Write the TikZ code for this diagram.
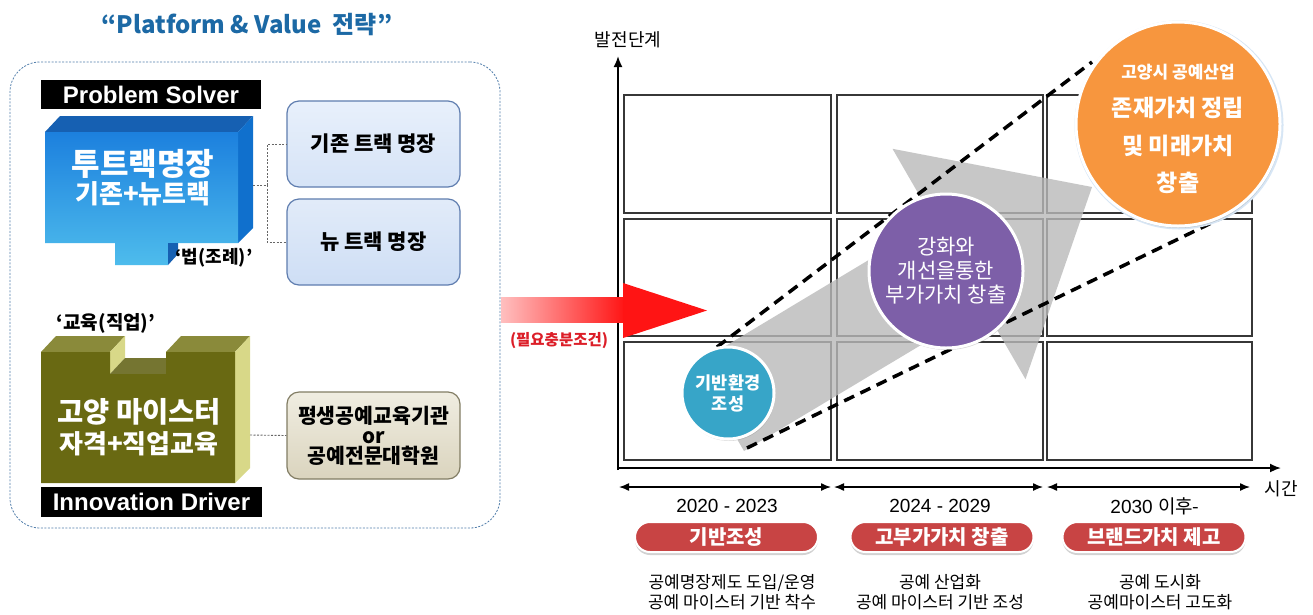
\documentclass[tikz,border=0pt]{standalone}
\usepackage{fontspec}
\setmainfont{Noto Sans CJK KR}
\newfontfamily\arial{Liberation Sans}
\usetikzlibrary{arrows.meta,shadows}
\definecolor{titleblue}{RGB}{28,105,165}
\definecolor{frameblue}{RGB}{80,125,170}
\definecolor{bfrontA}{RGB}{28,128,222}
\definecolor{bfrontB}{RGB}{78,188,236}
\definecolor{btop}{RGB}{22,96,178}
\definecolor{bside}{RGB}{16,112,205}
\definecolor{ofront}{RGB}{105,105,18}
\definecolor{otop}{RGB}{138,138,58}
\definecolor{oside}{RGB}{216,216,136}
\definecolor{boxbA}{RGB}{232,240,251}
\definecolor{boxbB}{RGB}{206,222,245}
\definecolor{boxbd}{RGB}{95,125,175}
\definecolor{beigeA}{RGB}{240,237,225}
\definecolor{beigeB}{RGB}{218,212,190}
\definecolor{beigebd}{RGB}{130,125,100}
\definecolor{pillred}{RGB}{200,68,68}
\definecolor{circteal}{RGB}{55,165,200}
\definecolor{circpurp}{RGB}{125,95,168}
\definecolor{circorng}{RGB}{247,150,62}
\definecolor{gridc}{RGB}{55,55,55}
\definecolor{arrowgray}{RGB}{185,185,185}
\definecolor{needred}{RGB}{220,30,40}
\definecolor{arrowred}{RGB}{255,20,20}
\definecolor{glowblue}{RGB}{215,230,245}
\begin{document}
\begin{tikzpicture}[x=1pt,y=-1pt,
  conn/.style={draw=gray!80!black, dash pattern=on 2pt off 1.5pt, line width=0.9pt},
  sidebox/.style={draw=boxbd, line width=1.2pt, rounded corners=12pt, minimum width=173pt, inner sep=0pt, align=center},
  blackbar/.style={fill=black, text=white, inner sep=0pt, minimum width=221pt, minimum height=30pt, font=\arial\bfseries\fontsize{24}{24}\selectfont},
  cell/.style={draw=gridc, line width=2pt},
  axis/.style={line width=1.8pt, -{Latex[length=11pt,width=9pt]}},
  span/.style={line width=1.4pt, {Latex[length=10pt,width=8pt]}-{Latex[length=10pt,width=8pt]}},
  trend/.style={line width=3.5pt, dash pattern=on 11pt off 7pt},
  pill/.style={rounded corners=15pt, fill=pillred, draw=white, line width=2pt, minimum width=183pt, minimum height=30pt, text=white, inner sep=0pt, font=\bfseries\fontsize{20}{20}\selectfont, drop shadow={shadow xshift=0pt, shadow yshift=-3pt, opacity=0.35}},
  desc/.style={align=center, font=\fontsize{17}{20}\selectfont, inner sep=0pt},
  year/.style={font=\arial\fontsize{19}{19}\selectfont, inner sep=0pt},
  bubble/.style={circle, draw=white, line width=3pt, text=white, align=center, inner sep=0pt, drop shadow={shadow xshift=1pt, shadow yshift=-2pt, opacity=0.3}},
  txt/.style={inner sep=0pt, align=center}
]
\useasboundingbox (0,0) rectangle (1313,614);
\fill[white] (0,0) rectangle (1313,614);

% ---------- left panel ----------
\node[txt, text=titleblue, font=\bfseries\fontsize{24}{24}\selectfont] (title) at (247,25) {“Platform \& Value\ \ 전략”};
\node[draw=frameblue, dash pattern=on 2pt off 1.5pt, line width=0.8pt, rounded corners=30pt, minimum width=490pt, minimum height=466pt, inner sep=0pt] (frame) at (255,295) {};

\node[blackbar, minimum width=220pt, minimum height=29pt] (ps) at (151,94.5) {Problem Solver};

% blue 3D box
\fill[btop] (45,132) -- (60,116) -- (253,116) -- (238,132) -- cycle;
\fill[bside] (238,132) -- (253,116) -- (253,228) -- (238,243) -- cycle;
\shade[top color=bfrontA, bottom color=bfrontB] (45,132) -- (238,132) -- (238,243) -- (168,243) -- (168,265) -- (115,265) -- (115,243) -- (45,243) -- cycle;
\fill[btop] (168,243) -- (178,243) -- (178,254) -- (168,265) -- cycle;
\node[txt, text=white, font=\bfseries\fontsize{31}{31}\selectfont] (blue1) at (143,164) {투트랙명장};
\node[txt, text=white, font=\bfseries\fontsize{26}{26}\selectfont] (blue2) at (143,194) {기존+뉴트랙};
\node[txt, font=\bfseries\fontsize{18}{18}\selectfont] (law) at (214,258) {‘법(조례)’};
\coordinate (blueR) at (253,185);

\node[sidebox, minimum height=86pt, top color=boxbA, bottom color=boxbB!70!boxbA, font=\bfseries\fontsize{21}{21}\selectfont] (b1) at (373.5,144) {기존 트랙 명장};
\node[sidebox, minimum height=86pt, top color=boxbB!60!white, bottom color=boxbB, font=\bfseries\fontsize{21}{21}\selectfont] (b2) at (373.5,242) {뉴 트랙 명장};
\draw[conn] (blueR) -- (267,185) |- (b1.west);
\draw[conn] (267,185) |- (b2.west);

% olive 3D box
\node[txt, font=\bfseries\fontsize{19}{19}\selectfont] (edu) at (106,323) {‘교육(직업)’};
\fill[otop] (41,352) -- (56,336) -- (125,336) -- (110,352) -- cycle;
\fill[oside] (110,352) -- (125,336) -- (125,358) -- (110,374) -- cycle;
\fill[otop!85!black] (110,374) -- (125,358) -- (181,358) -- (166,374) -- cycle;
\fill[otop] (166,352) -- (181,336) -- (250,336) -- (235,352) -- cycle;
\fill[oside] (235,352) -- (250,336) -- (250,468) -- (235,483) -- cycle;
\fill[ofront] (41,352) -- (110,352) -- (110,374) -- (166,374) -- (166,352) -- (235,352) -- (235,483) -- (41,483) -- cycle;
\node[txt, text=white, font=\bfseries\fontsize{28.5}{28.5}\selectfont] (ol1) at (139,412) {고양 마이스터};
\node[txt, text=white, font=\bfseries\fontsize{26}{26}\selectfont] (ol2) at (139,444) {자격+직업교육};
\coordinate (oliveR) at (250,435);
\node[blackbar] (id) at (151.5,502) {Innovation Driver};

\node[sidebox, draw=beigebd, minimum height=87pt, top color=beigeA, bottom color=beigeB, font=\bfseries\fontsize{20.5}{24}\selectfont] (b3) at (373.5,435.5) {평생공예교육기관\\[-4pt]or\\[-4pt]공예전문대학원};
\draw[conn] (oliveR) -- (b3.west);

% ---------- chart ----------
\foreach \xa/\xb in {624/831,837/1043,1047/1252}{
  \foreach \ya/\yb in {95/213,219/336,342/460}{
    \draw[cell] (\xa,\ya) rectangle (\xb,\yb);
  }
}
\coordinate (O) at (618,468);
\coordinate (ytip) at (618,56);
\coordinate (xtip) at (1281,468);
\draw[axis] (618,470) -- (ytip);
\draw[axis] (617,468) -- (xtip);
\node[txt, font=\fontsize{18}{18}\selectfont] (ylab) at (628,40) {발전단계};
\node[txt, font=\fontsize{18}{18}\selectfont] (xlab) at (1281,489) {시간};

% gray growth arrow
\fill[arrowgray, opacity=0.8] (694,365) -- (934,220.7) -- (892.5,148.8) -- (1092,187) -- (1025.5,379.2) -- (984,307.3) -- (744,451) -- cycle;

% trend dashed lines
\coordinate (up0) at (717,347);
\coordinate (up1) at (1092,62);
\coordinate (lo0) at (747,448);
\coordinate (lo1) at (1234,212);
\draw[trend] (up0) -- (up1);
\draw[trend] (lo0) -- (lo1);

% red arrow
\shade[left color=red!25!white, right color=arrowred] (501,297) rectangle (625,322);
\fill[arrowred] (623,283) -- (707,310.5) -- (623,338) -- cycle;
\node[txt, text=needred, font=\bfseries\fontsize{15.5}{15.5}\selectfont] (need) at (559,341) {(필요충분조건)};

% bubbles
\node[bubble, fill=circteal, minimum size=92pt, font=\bfseries\fontsize{17.5}{21}\selectfont] (c1) at (728,393) {기반환경\\조성};
\node[bubble, fill=circpurp, minimum size=154pt, font=\fontsize{21}{24}\selectfont] (c2) at (946,271) {강화와\\개선을통한\\부가가치 창출};
\node[circle, fill=glowblue, minimum size=209pt, inner sep=0pt] (c3glow) at (1179,125) {};
\node[bubble, fill=circorng, minimum size=204pt] (c3) at (1178,124) {};
\node[txt, text=white, font=\bfseries\fontsize{17}{17}\selectfont] (o1) at (1178,72) {고양시 공예산업};
\node[txt, text=white, font=\bfseries\fontsize{23}{23}\selectfont] (o2) at (1178,108) {존재가치 정립};
\node[txt, text=white, font=\bfseries\fontsize{23}{23}\selectfont] (o3) at (1178,146) {및 미래가치};
\node[txt, text=white, font=\bfseries\fontsize{23}{23}\selectfont] (o4) at (1178,183) {창출};

% time spans
\coordinate (s1a) at (619,487); \coordinate (s1b) at (831,487);
\coordinate (s2a) at (834,487); \coordinate (s2b) at (1043,487);
\coordinate (s3a) at (1047,487); \coordinate (s3b) at (1250,487);
\draw[span] (s1a) -- (s1b);
\draw[span] (s2a) -- (s2b);
\draw[span] (s3a) -- (s3b);

\node[year] (y1) at (727,506) {2020 - 2023};
\node[year] (y2) at (940,506) {2024 - 2029};
\node[txt] (y3) at (1155,506) {{\arial\fontsize{19}{19}\selectfont 2030\ }{\fontsize{19}{19}\selectfont 이후-}};

\node[pill] (p1) at (726.5,537) {기반조성};
\node[pill] (p2) at (942,537) {고부가가치 창출};
\node[pill] (p3) at (1154,537) {브랜드가치 제고};

\node[desc] (d1) at (732,592) {공예명장제도 도입/운영\\공예 마이스터 기반 착수};
\node[desc] (d2) at (940,592) {공예 산업화\\공예 마이스터 기반 조성};
\node[desc] (d3) at (1160,592) {공예 도시화\\공예마이스터 고도화};
\end{tikzpicture}
\end{document}
